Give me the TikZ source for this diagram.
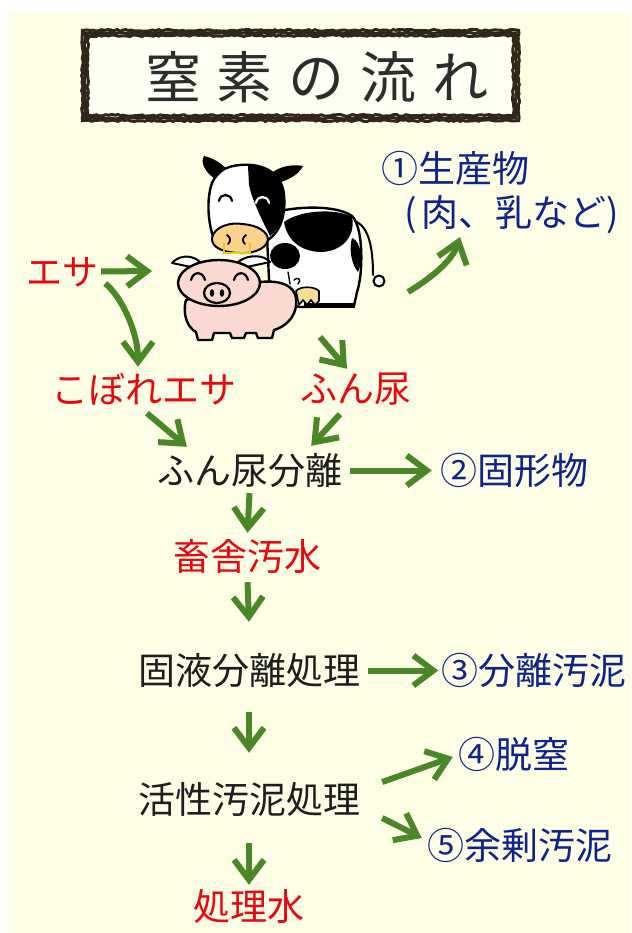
\documentclass[tikz,border=0pt]{standalone}
\usepackage{fontspec}
\newfontfamily\jp{Noto Sans CJK JP}
\usetikzlibrary{arrows.meta,decorations.pathmorphing,calc}

\definecolor{paper}{RGB}{254,253,230}
\definecolor{titlefill}{RGB}{255,255,244}
\definecolor{framebrown}{RGB}{50,38,26}
\definecolor{titlegray}{RGB}{45,45,45}
\definecolor{flowgreen}{RGB}{74,135,38}
\definecolor{inred}{RGB}{232,8,16}
\definecolor{outblue}{RGB}{14,36,138}
\definecolor{steptext}{RGB}{30,30,30}
\definecolor{pigpink}{RGB}{250,218,208}
\definecolor{muzzle}{RGB}{250,210,140}
\definecolor{ringyellow}{RGB}{238,200,20}
\definecolor{udder}{RGB}{244,222,150}

\begin{document}
\begin{tikzpicture}[x=1pt,y=-1pt,
  lbl/.style={inner sep=0pt, anchor=base, text height=32pt, text depth=5pt,
              font=\jp\fontsize{37}{40}\selectfont},
  inlbl/.style={lbl, text=inred},
  outlbl/.style={lbl, text=outblue},
  steplbl/.style={lbl, text=steptext},
  flow/.style={draw=flowgreen, line width=6pt,
               -{Straight Barb[length=20pt,width=30pt]}},
  ink/.style={draw=black, line width=2.4pt, line join=round, line cap=round},
  roughframe/.style={draw=framebrown, line width=3pt, decorate,
               decoration={random steps,segment length=3pt,amplitude=0.9pt}},
]
\useasboundingbox (0,0) rectangle (631,933);
\fill[white] (0,0) rectangle (631,933);
\fill[paper] (8,12) rectangle (631,933);

% ---------- title board ----------
\fill[titlefill] (85,33) rectangle (516,118);
\pgfmathsetseed{11}
\foreach \o in {-2.6,0,2.6}
  \draw[roughframe] (85+\o,33+\o) rectangle (516-\o,118-\o);
\node[inner sep=0pt, anchor=base, text=titlegray,
      font=\jp\fontsize{56}{60}\selectfont] (title) at (317,99)
  {窒\hspace{16pt}素\hspace{16pt}の\hspace{16pt}流\hspace{16pt}れ};

% ---------- cow ----------
% tail
\draw[ink, line width=2pt] (350,220) .. controls (368,222) and (373,245) .. (373,275);
\draw[ink, line width=2pt, fill=white] (379,281) circle (5.5);
% body
\draw[ink, fill=white] (266,215) .. controls (290,206) and (335,204) .. (352,216)
  .. controls (364,228) and (363,275) .. (357,292) -- (354,306) -- (300,307)
  -- (270,300) -- cycle;
% spots
\fill[black] (284,222) .. controls (300,210) and (336,208) .. (352,217)
  .. controls (356,236) and (342,252) .. (320,252)
  .. controls (300,251) and (287,240) .. (284,222) -- cycle;
\fill[black] (285,256) ellipse (15 and 13);
\fill[black] (352,238) .. controls (362,242) and (363,262) .. (358,272)
  .. controls (351,264) and (349,248) .. (352,238) -- cycle;
% hooves line and udder
\draw[black, line width=5pt] (304,305) -- (355,305);
\draw[ink, line width=1.6pt, fill=udder] (296,291) .. controls (300,286) and (314,286) .. (319,291)
  -- (319,301) -- (315,305) -- (311,300) -- (307,305) -- (303,300) -- (299,305) -- cycle;
\draw[ink, line width=1.4pt] (288,272) -- (290,284) (294,280) .. controls (298,276) and (302,280) .. (298,284);
% ears
\fill[black] (214,178) .. controls (205,172) and (200,162) .. (204,156)
  .. controls (214,158) and (224,165) .. (229,172) -- cycle;
\fill[black] (268,176) .. controls (278,166) and (292,164) .. (303,166)
  .. controls (298,176) and (285,182) .. (272,184) -- cycle;
% head
\draw[ink, fill=white] (240,165) .. controls (262,163) and (282,172) .. (284,195)
  .. controls (286,215) and (280,232) .. (268,240) -- (215,242)
  .. controls (208,225) and (206,200) .. (212,183)
  .. controls (218,170) and (228,166) .. (240,165) -- cycle;
\fill[black] (248,166) .. controls (268,164) and (283,175) .. (284,195)
  .. controls (286,215) and (280,228) .. (270,236)
  .. controls (262,220) and (252,200) .. (249,185) -- cycle;
% eyes
\draw[ink, line width=2.2pt] (219,201) .. controls (220,193) and (231,193) .. (232,201);
\draw[white, line width=2.2pt, line cap=round] (256,203) .. controls (257,195) and (268,195) .. (269,203);
% muzzle
\draw[ink, line width=2pt, fill=muzzle] (212,238) .. controls (214,226) and (232,222) .. (242,224)
  .. controls (258,225) and (268,232) .. (268,240)
  .. controls (266,250) and (250,254) .. (240,253)
  .. controls (225,253) and (211,248) .. (212,238) -- cycle;
\draw[ink, line width=1.8pt] (227,235) .. controls (231,238) and (231,241) .. (228,244);
\draw[ink, line width=1.8pt] (246,235) .. controls (242,238) and (242,241) .. (245,244);
\draw[ringyellow, line width=1.6pt] (224,243) -- (224,253) -- (250,253) -- (250,243);

% ---------- pig ----------
\draw[ink, fill=pigpink] (186,300) .. controls (182,315) and (188,328) .. (196,332)
  -- (198,340) -- (212,340) -- (214,333) -- (230,333) -- (232,338) -- (244,338) -- (246,333)
  -- (256,333) -- (258,338) -- (272,338) -- (274,330)
  .. controls (290,325) and (298,312) .. (296,298)
  .. controls (294,285) and (280,280) .. (260,282) -- cycle;
% ears
\draw[ink, line width=2pt, fill=white] (196,268) -- (172,263) .. controls (178,256) and (190,254) .. (199,261) -- cycle;
\draw[ink, line width=2pt, fill=white] (242,268) -- (270,262) .. controls (264,255) and (250,254) .. (239,261) -- cycle;
% head
\draw[ink, fill=pigpink] (219,283) ellipse (41 and 23);
\draw[ink, line width=2.2pt] (191,280) .. controls (193,271) and (203,271) .. (205,280);
\draw[ink, line width=2.2pt] (234,280) .. controls (236,271) and (246,271) .. (248,280);
\draw[ink, line width=2.2pt, fill=pigpink] (217,293) ellipse (13 and 10);
\fill[black] (212,293) ellipse (2.2 and 3.8);
\fill[black] (222,293) ellipse (2.2 and 3.8);

% connection points on the animals
\coordinate (herdIn) at (152,271);
\coordinate (herdDung) at (320,337);
\coordinate (herdOut) at (408,292);

% ---------- labels ----------
\node[inlbl, font=\jp\fontsize{36}{40}\selectfont] (feed) at (62,285) {エサ};
\node[inlbl] (spill) at (143.5,403) {こぼれエサ};
\node[inlbl] (dung) at (356,402) {ふん尿};
\node[steplbl] (sep) at (249.5,484) {ふん尿分離};
\node[outlbl] (solid) at (514,484) {②固形物};
\node[inlbl] (shed) at (247.5,570) {畜舎汚水};
\node[steplbl] (liquid) at (249,684) {固液分離処理};
\node[outlbl] (sludge) at (534,684) {③分離汚泥};
\node[steplbl] (active) at (249,813) {活性汚泥処理};
\node[outlbl] (denit) at (514,768) {④脱窒};
\node[outlbl] (excess) at (520,859) {⑤余剰汚泥};
\node[inlbl] (treated) at (249,920) {処理水};
\node[outlbl, anchor=base west] (product) at (381,183) {①生産物};
\node[outlbl, anchor=base west] (kinds) at (404,226) {(\hspace{5pt}肉、乳など)};

% ---------- flow arrows ----------
\draw[flow] ($(feed.east)+(3,0)$) -- (herdIn);
\draw[flow] ($(feed.east)+(7,12)$) .. controls (120,295) and (138,330) .. ($(spill.north)+(-5.5,-4)$);
\draw[flow] (herdDung) -- ($(dung.north)+(-9,-1)$);
\draw[flow] ($(spill.south)+(3.5,5)$) -- ($(sep.north west)+(30,-5)$);
\draw[flow] ($(dung.south)+(-16,7)$) -- ($(sep.north east)+(-31,-6)$);
\draw[flow] ($(sep.east)+(8,0)$) -- ($(sep.east -| solid.west)+(-8,0)$);
\draw[flow] ($(sep.south)+(0,4)$) -- ($(shed.north)+(0,-5)$);
\draw[flow] ($(shed.south)+(0,7)$) -- ($(liquid.north)+(0,-30)$);
\draw[flow] ($(liquid.east)+(8,0)$) -- ($(liquid.east -| sludge.west)+(-3,0)$);
\draw[flow] ($(liquid.south)+(0,23)$) -- ($(active.north)+(0,-28)$);
\draw[flow] ($(active.east)+(22,-17.5)$) -- ($(denit.west)+(-5.5,2.5)$);
\draw[flow] ($(active.east)+(22,18.5)$) -- ($(excess.west)+(-5.5,-7.5)$);
\draw[flow] ($(active.south)+(0,25)$) -- ($(treated.north)+(0,-3)$);
\draw[flow] (herdOut) .. controls (428,280) and (452,262) .. (460,237);
\end{tikzpicture}
\end{document}
